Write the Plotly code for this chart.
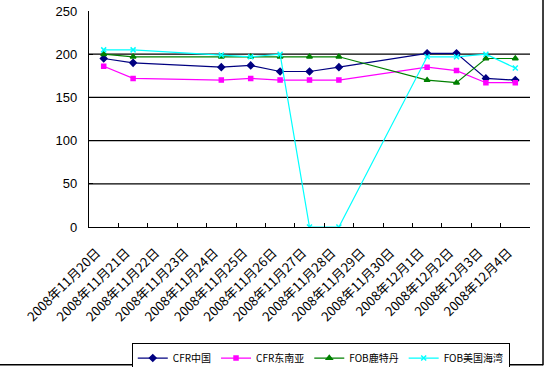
import plotly.graph_objects as go

dates = ["2008年11月20日", "2008年11月21日", "2008年11月22日", "2008年11月23日",
         "2008年11月24日", "2008年11月25日", "2008年11月26日", "2008年11月27日",
         "2008年11月28日", "2008年11月29日", "2008年11月30日", "2008年12月1日",
         "2008年12月2日", "2008年12月3日", "2008年12月4日"]

cfr_china = [195, 190, None, None, 185, 187, 180, 180, 185, None, None, 201, 201, 172, 170]
cfr_sea = [186, 172, None, None, 170, 172, 170, 170, 170, None, None, 185, 181, 167, 167]
fob_rotterdam = [200, 197, None, None, 197, 197, 197, 197, 197, None, None, 170, 167, 195, 195]
fob_gulf = [205, 205, None, None, 199, 197, 200, 0, 0, None, None, 197, 197, 200, 184]

grid_vals = [50, 100, 150, 200]

series = [
    ("CFR中国", cfr_china, "#000080", "diamond", 5),
    ("CFR东南亚", cfr_sea, "#FF00FF", "square", 4),
    ("FOB鹿特丹", fob_rotterdam, "#008000", "triangle-up", 5),
    ("FOB美国海湾", fob_gulf, "#00FFFF", "x-thin-open", 5),
]

fig = go.Figure()
for name, vals, color, sym, size in series:
    fig.add_trace(go.Scatter(
        x=dates, y=vals, name=name, mode="lines+markers", connectgaps=True,
        line=dict(color=color, width=1.2),
        marker=dict(color=color, symbol=sym, size=size,
                    line=dict(color=color, width=1.5)),
    ))

for g in grid_vals:
    fig.add_shape(type="line", xref="paper", yref="y", x0=0, x1=1, y0=g, y1=g,
                  line=dict(color="black", width=1.2), layer="below")

# outer frame (right and bottom edges)
fig.add_shape(type="line", xref="paper", yref="paper", x0=1.0295, x1=1.0295, y0=-0.64, y1=1.06,
              line=dict(color="black", width=1.5))
fig.add_shape(type="line", xref="paper", yref="paper", x0=-0.41, x1=1.0295, y0=-0.638, y1=-0.638,
              line=dict(color="black", width=1.5))

fig.update_layout(
    width=545, height=367,
    margin=dict(l=89, r=15, t=11, b=140, autoexpand=False),
    paper_bgcolor="white", plot_bgcolor="white",
    font=dict(family="Liberation Sans, Noto Sans CJK SC", size=12, color="black"),
    showlegend=True,
    legend=dict(orientation="h", x=0.097, y=-0.535, xanchor="left", yanchor="top",
                bordercolor="black", borderwidth=1, bgcolor="white",
                font=dict(family="Noto Sans CJK SC", size=10), itemwidth=30,
                tracegroupgap=0),
    xaxis=dict(type="category", range=[-0.5, 14.5], showgrid=False, automargin=False,
               showline=True, linecolor="black", linewidth=1.2,
               ticks="inside", ticklen=4, tickcolor="black", tickson="boundaries",
               tickangle=-45, tickfont=dict(family="Noto Sans CJK SC", size=13),
               ticklabelstandoff=12, ticklabelshift=-7,
               fixedrange=True),
    yaxis=dict(range=[0, 250], dtick=50, showgrid=False, zeroline=False, automargin=False,
               showline=True, linecolor="black", linewidth=1.2,
               ticks="inside", ticklen=4, tickcolor="black",
               ticklabelstandoff=8,
               tickfont=dict(family="Liberation Sans", size=13)),
)

fig.write_html("out.html", config={"displayModeBar": False},
               post_script="document.body.style.margin='0';document.body.style.overflow='hidden';")
